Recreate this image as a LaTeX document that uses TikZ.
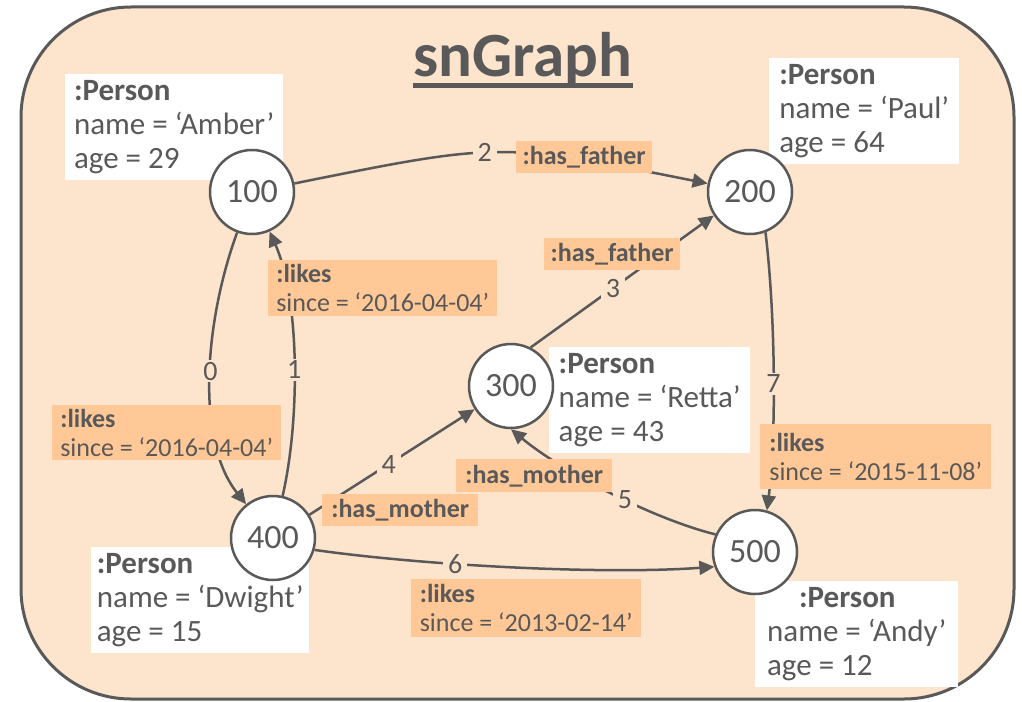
\documentclass[tikz,border=0pt]{standalone}
\usepackage{fontspec}
\setmainfont{Carlito}
\usetikzlibrary{arrows.meta}
\usetikzlibrary{positioning}

\definecolor{ink}{HTML}{595959}
\definecolor{peach}{HTML}{FDE4CC}
\definecolor{tan}{HTML}{FFC896}

\tikzset{
  vertex/.style={circle,draw=ink,fill=white,line width=2.5pt,minimum size=84pt,inner sep=0pt,font=\fontsize{34}{40}\selectfont},
  props/.style={fill=white,anchor=north west,align=left,inner sep=0pt,minimum height=106pt,font=\fontsize{31}{34}\selectfont},
  rel/.style={fill=tan,anchor=north west,align=left,inner sep=0pt,font=\fontsize{26}{29}\selectfont},
  link/.style={draw=ink,line width=2.5pt,-{Triangle[length=15pt,width=14pt]}},
  num/.style={fill=peach,inner xsep=5pt,inner ysep=2pt,font=\fontsize{28}{32}\selectfont}
}

\begin{document}
\begin{tikzpicture}[x=1pt,y=-1pt,every node/.append style={text=ink}]
  \useasboundingbox (0,0) rectangle (1022,701);
  \draw[fill=peach,draw=ink,line width=3pt,rounded corners=110pt] (21,7) rectangle (1014,699);
  \node[anchor=base,inner xsep=0pt,font=\fontsize{63}{70}\selectfont\bfseries] (title) at (523,76) {snGraph};
  \draw[ink,line width=4.5pt] ([yshift=-9.5pt]title.base west) -- ([yshift=-9.5pt]title.base east);

  % persons
  \node[props,minimum width=218pt] (pAmber) at (65,74) {\textbf{:Person}\\name = ‘Amber’\\age = 29};
  \node[props,minimum width=190pt] (pPaul) at (769,58) {\textbf{:Person}\\name = ‘Paul’\\age = 64};
  \node[props,minimum width=201pt] (pRetta) at (549,347) {\textbf{:Person}\\name = ‘Retta’\\age = 43};
  \node[props,minimum width=218pt] (pDwight) at (91,547) {\textbf{:Person}\\name = ‘Dwight’\\age = 15};
  \node[props,minimum width=203pt] (pAndy) at (755,581) {\hspace*{32pt}\textbf{:Person}\\name = ‘Andy’\\age = 12};

  \node[vertex] (n100) at (252,192) {100};
  \node[vertex] (n200) at (750,192) {200};
  \node[vertex] (n300) at (511,386) {300};
  \node[vertex] (n400) at (273,538) {400};
  \node[vertex] (n500) at (755,552) {500};

  % relationships
  \draw[link] (n100) .. controls (205,320) and (195,440) .. (n400) node[num,pos=.48] {0};
  \draw[link] (n400) .. controls (300,420) and (300,300) .. (n100) node[num,pos=.47] {1};
  \draw[link] (n100) .. controls (500,142) .. (n200) node[num,pos=.45] {2};
  \draw[link] (n300.63) -- (n200.213) node[num,pos=.45] {3};
  \draw[link] (n400) -- (n300) node[num,pos=.48] {4};
  \draw[link] (n500.156) .. controls (650,518) and (560,470) .. (n300.south) node[num,pos=.42] {5};
  \draw[link] (n400.344) .. controls (420,565) and (600,575) .. (n500.200) node[num,pos=.37] {6};
  \draw[link] (n200.291) .. controls (776,320) and (776,440) .. (n500.74) node[num,pos=.52] {7};

  \node[rel,minimum width=229pt,minimum height=55pt] (r0) at (52,405) {\textbf{:likes}\\since = ‘2016-04-04’};
  \node[rel,minimum width=229pt,minimum height=56pt] (r1) at (268,260) {\textbf{:likes}\\since = ‘2016-04-04’};
  \node[rel,minimum width=136pt,minimum height=32pt] (r2) at (516,141) {\textbf{:has\_father}};
  \node[rel,minimum width=136pt,minimum height=32pt] (r3) at (544,238) {\textbf{:has\_father}};
  \node[rel,minimum width=156pt,minimum height=32pt] (r4) at (322,494) {\textbf{:has\_mother}};
  \node[rel,minimum width=156pt,minimum height=33pt] (r5) at (456,459) {\textbf{:has\_mother}};
  \node[rel,minimum width=230pt,minimum height=58pt] (r6) at (411,579) {\textbf{:likes}\\since = ‘2013-02-14’};
  \node[rel,minimum width=231pt,minimum height=65pt] (r7) at (760,424) {\textbf{:likes}\\since = ‘2015-11-08’};
\end{tikzpicture}
\end{document}
